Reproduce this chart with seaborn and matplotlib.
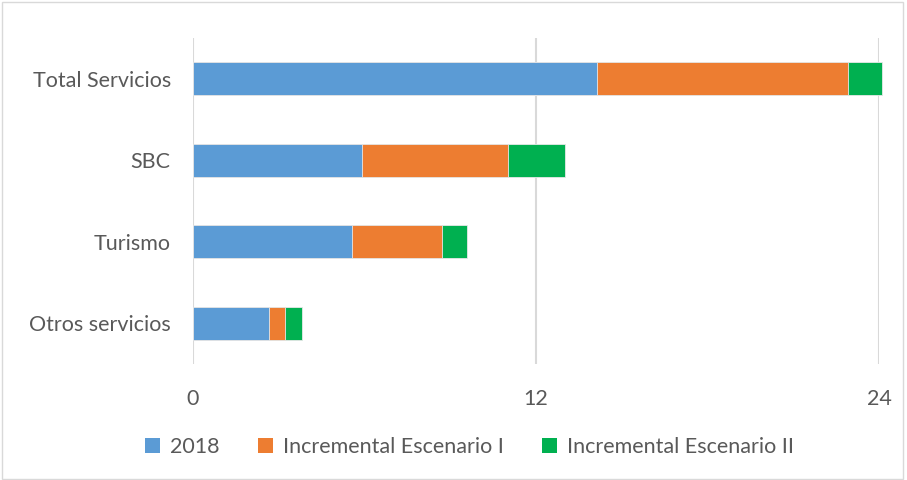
import matplotlib
matplotlib.use("Agg")
import matplotlib.pyplot as plt
import seaborn as sns
import numpy as np
import pandas as pd
from matplotlib.patches import Patch, Rectangle

categories = ["Total Servicios", "SBC", "Turismo", "Otros servicios"]
base_2018 = [14.13, 5.91, 5.55, 2.66]
incremental_1 = [8.80, 5.11, 3.15, 0.55]
incremental_2 = [1.16, 1.99, 0.90, 0.59]
series_names = ["2018", "Incremental Escenario I", "Incremental Escenario II"]
colors = ["#5B9BD5", "#ED7D31", "#00B050"]
x_ticks = [0, 12, 24]

sns.set_theme(style="white")
plt.rcParams["font.family"] = ["Lato", "DejaVu Sans"]
text_color = "#595959"

fig = plt.figure(figsize=(9.07, 4.8), dpi=100)
ax = fig.add_axes([193 / 907, 1 - 364 / 480, (879 - 193) / 907, (364 - 38) / 480])

# Cumulative totals: draw the longest first so each shorter segment overlays it
cum1 = np.array(base_2018)
cum2 = cum1 + np.array(incremental_1)
cum3 = cum2 + np.array(incremental_2)
for values, color in zip([cum3, cum2, cum1], colors[::-1]):
    df = pd.DataFrame({"categoria": categories, "valor": values})
    sns.barplot(data=df, x="valor", y="categoria", orient="h", color=color,
                width=0.4, saturation=1, edgecolor="#E8E8E8", linewidth=0.6,
                ax=ax, zorder=3)
for p in ax.patches:
    p.set_clip_on(False)

ax.set_xlim(0, 24)
ax.set_xticks(x_ticks)
ax.set_xticklabels([str(t) for t in x_ticks])
ax.grid(axis="x", color="#D9D9D9", linewidth=1.5, zorder=0)
ax.set_axisbelow(True)
for s in ax.spines.values():
    s.set_visible(False)
ax.set_xlabel("")
ax.set_ylabel("")
ax.tick_params(axis="x", length=0, pad=18, labelsize=15.5, labelcolor=text_color)
ax.tick_params(axis="y", length=0, pad=16, labelsize=15.5, labelcolor=text_color)

handles = [Patch(facecolor=c, edgecolor="none") for c in colors]
fig.legend(handles, series_names, loc="center", bbox_to_anchor=(469.5 / 907, 1 - 447 / 480),
           ncol=3, frameon=False, fontsize=15.5, labelcolor=text_color,
           handlelength=0.7, handleheight=0.7, handletextpad=0.45, columnspacing=1.8)

# Chart frame
fig.patches.append(Rectangle((0.002, 0.003), 0.994, 0.993, transform=fig.transFigure,
                             fill=False, edgecolor="#D9D9D9", linewidth=1.0))

fig.savefig("out.png", dpi=100)
